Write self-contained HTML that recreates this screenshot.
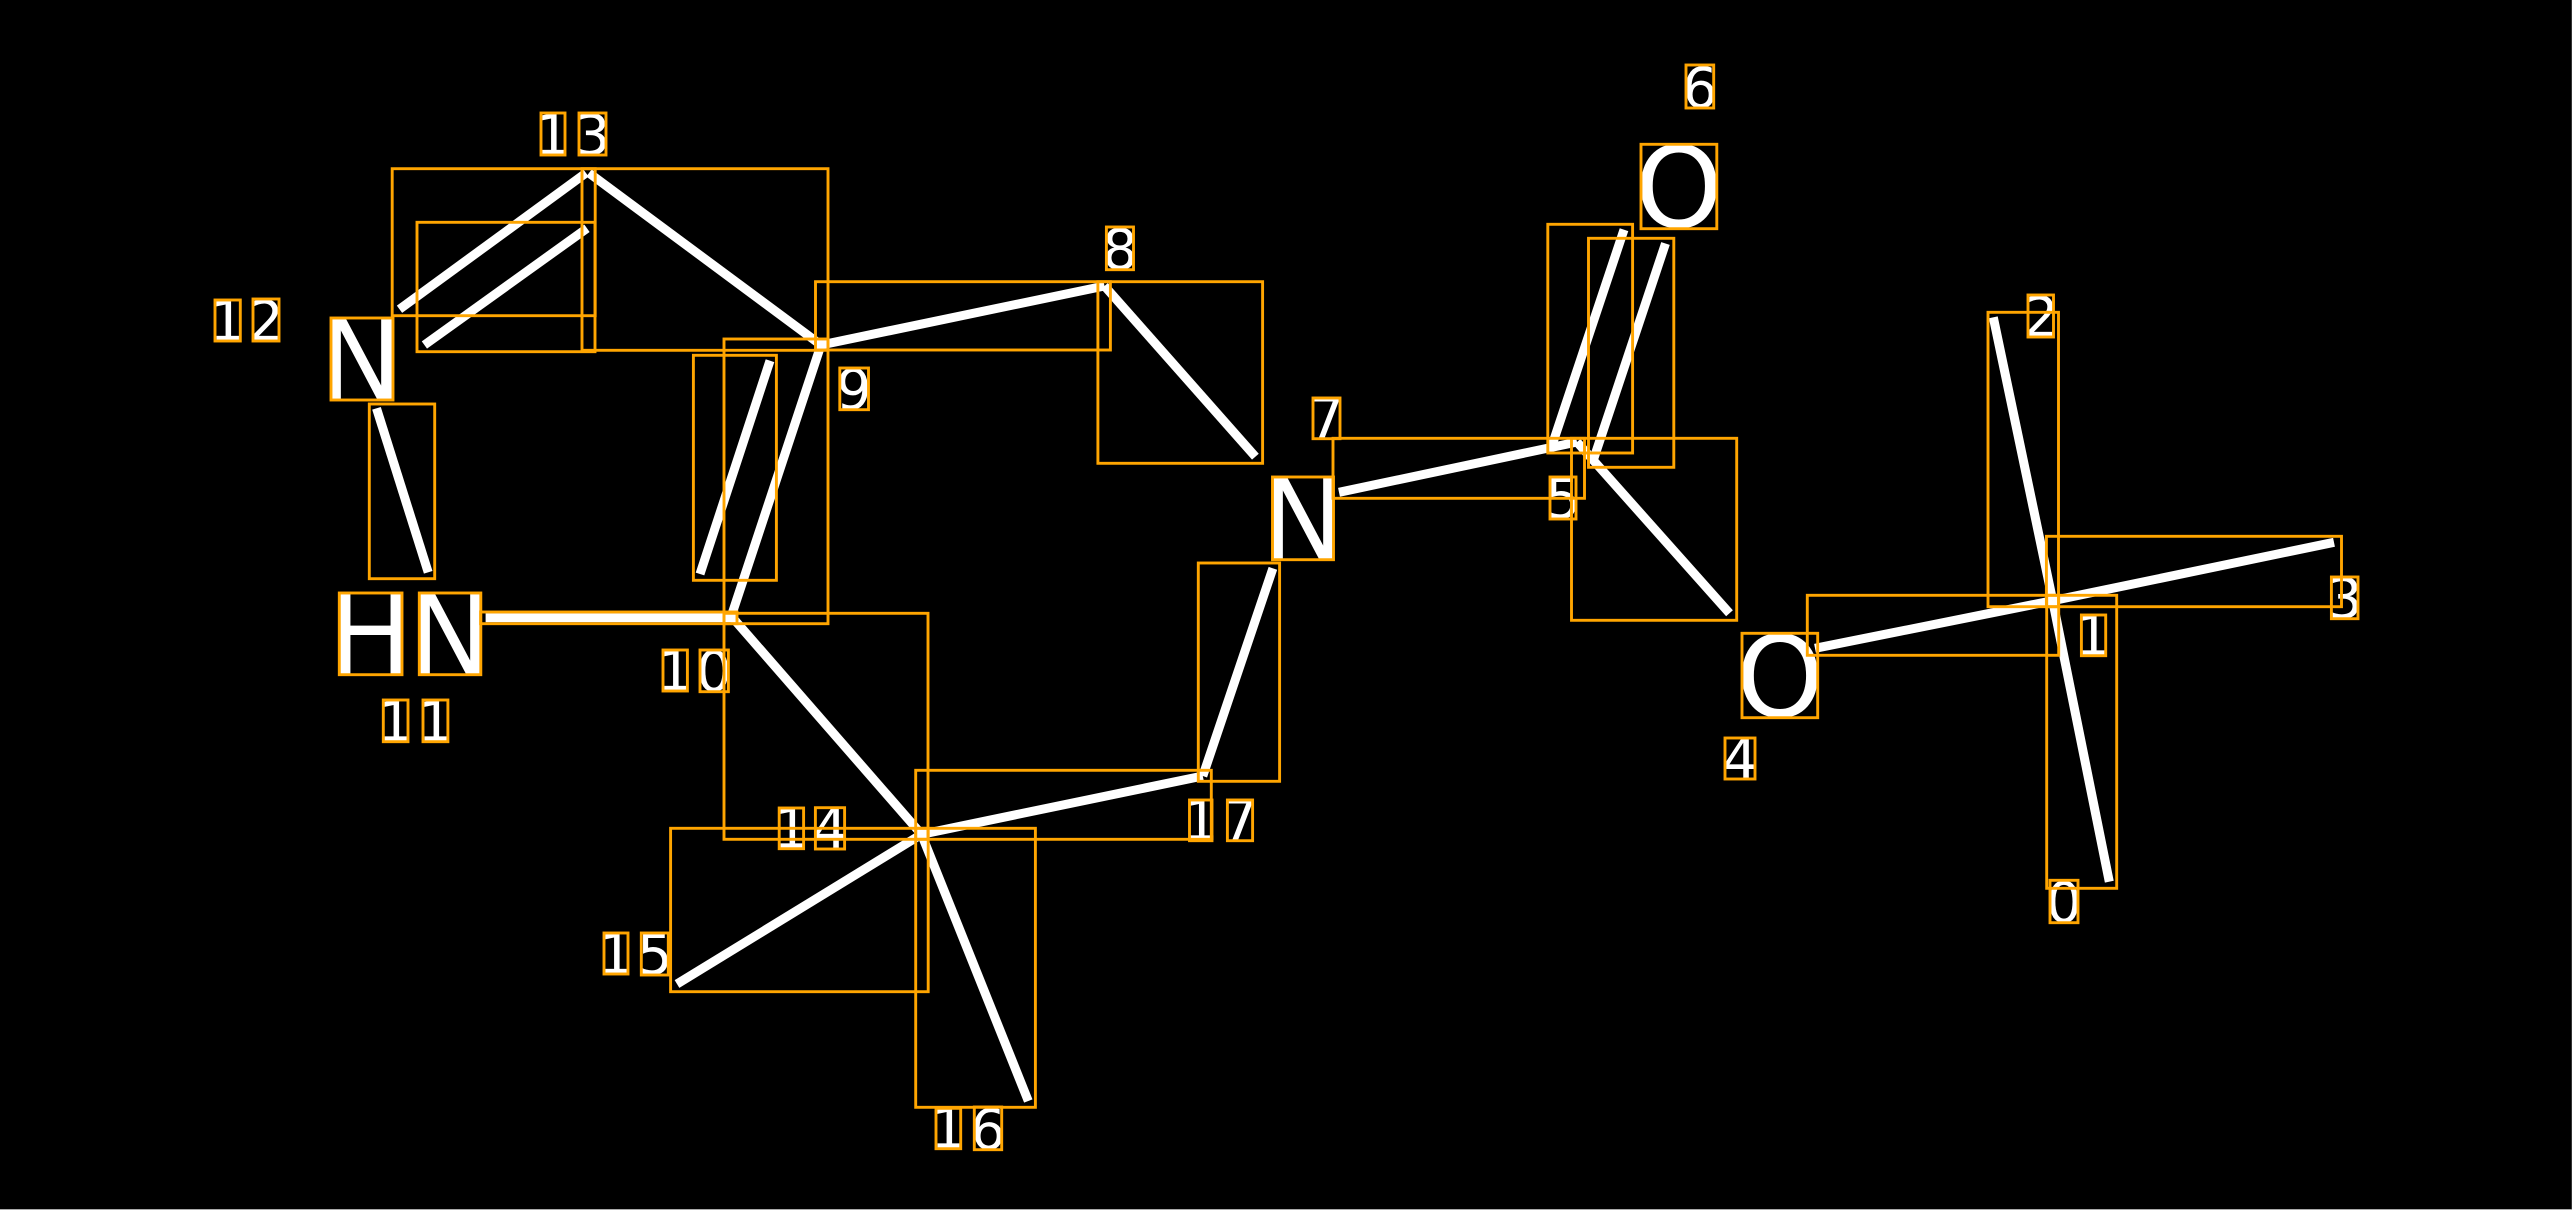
<!DOCTYPE html>
<html><head><meta charset="utf-8"><style>
html,body{margin:0;padding:0;background:#000;width:2572px;height:1210px;overflow:hidden}
svg{display:block}
text{font-family:"DejaVu Sans","Liberation Sans",sans-serif;fill:#fff}
.s{font-size:56px;text-anchor:middle}
.b{font-size:112px;text-anchor:middle}
.l line{stroke:#fff;stroke-width:9}
.r rect{fill:none;stroke:#FFA500;stroke-width:2.9}
</style></head><body>
<svg width="2572" height="1210" viewBox="0 0 2572 1210" xmlns="http://www.w3.org/2000/svg">
<rect width="2572" height="1210" fill="#000"/>
<g class="l">
<line x1="2109.3" y1="881.7" x2="2052.7" y2="600.7"/>
<line x1="1993.3" y1="317.3" x2="2052.7" y2="600.7"/>
<line x1="2334" y1="542.3" x2="2052.7" y2="600.7"/>
<line x1="1815" y1="648.3" x2="2052.7" y2="600.7"/>
<line x1="1577" y1="442" x2="1729.5" y2="613.3"/>
<line x1="1624" y1="229.7" x2="1551.5" y2="447"/>
<line x1="1665.5" y1="243.5" x2="1593" y2="461"/>
<line x1="1339" y1="492.3" x2="1577" y2="442"/>
<line x1="1104.5" y1="286" x2="1255.4" y2="456.7"/>
<line x1="821" y1="345" x2="1104.5" y2="286"/>
<line x1="821" y1="345" x2="731" y2="617"/>
<line x1="770" y1="360.7" x2="700" y2="574"/>
<line x1="485.6" y1="617.8" x2="737" y2="617.8"/>
<line x1="376.5" y1="408.3" x2="428.2" y2="572.3"/>
<line x1="399.5" y1="309.3" x2="586" y2="173"/>
<line x1="424.4" y1="345" x2="587" y2="228.3"/>
<line x1="589" y1="173" x2="821" y2="345"/>
<line x1="732" y1="617" x2="921.5" y2="834.3"/>
<line x1="677" y1="984" x2="921.5" y2="834.3"/>
<line x1="1028.3" y1="1101" x2="921.5" y2="834.3"/>
<line x1="921.5" y1="834.3" x2="1202.8" y2="776"/>
<line x1="1272.9" y1="568.3" x2="1202.8" y2="776"/>
</g>
<g>
<text class="b" x="361" y="399">N</text>
<text class="b" x="370.5" y="674">H</text>
<text class="b" x="450" y="674">N</text>
<text class="b" x="1303" y="559">N</text>
<text class="b" x="1678.8" y="227">O</text>
<text class="b" x="1780" y="716.5">O</text>
<text class="s" x="2064" y="922">0</text>
<text class="s" x="2093" y="655">1</text>
<text class="s" x="2041" y="336.5">2</text>
<text class="s" x="2344.7" y="618">3</text>
<text class="s" x="1740" y="778.5">4</text>
<text class="s" x="1563" y="518">5</text>
<text class="s" x="1700" y="107.5">6</text>
<text class="s" x="1326.5" y="438">7</text>
<text class="s" x="1120" y="269">8</text>
<text class="s" x="854" y="409">9</text>
<text class="s" x="675" y="690.5">1</text>
<text class="s" x="714" y="691">0</text>
<text class="s" x="395.5" y="741">1</text>
<text class="s" x="435.5" y="741">1</text>
<text class="s" x="227.5" y="340.5">1</text>
<text class="s" x="266" y="340.5">2</text>
<text class="s" x="553" y="154.5">1</text>
<text class="s" x="592.5" y="154.5">3</text>
<text class="s" x="791.5" y="848">1</text>
<text class="s" x="830" y="848">4</text>
<text class="s" x="616" y="973.5">1</text>
<text class="s" x="654.8" y="974">5</text>
<text class="s" x="948.5" y="1148">1</text>
<text class="s" x="988" y="1149">6</text>
<text class="s" x="1200.8" y="840">1</text>
<text class="s" x="1240" y="840">7</text>
</g>
<g class="r">
<rect x="2046.7" y="595.3" width="70" height="293"/>
<rect x="1988" y="312.3" width="70.5" height="294.4"/>
<rect x="2046.4" y="536.3" width="295.1" height="70.4"/>
<rect x="1807.3" y="595.3" width="251.4" height="60"/>
<rect x="1571.5" y="438.3" width="165.2" height="182"/>
<rect x="1547.8" y="224.3" width="84.8" height="228.7"/>
<rect x="1588.5" y="238.3" width="85.3" height="229"/>
<rect x="1333" y="438.3" width="251.5" height="60"/>
<rect x="1097.9" y="281.7" width="164.7" height="181.6"/>
<rect x="815.5" y="281.7" width="294.9" height="68.3"/>
<rect x="724" y="339" width="104" height="284.7"/>
<rect x="693.4" y="355.3" width="83" height="225"/>
<rect x="480.6" y="612" width="256.4" height="11.7"/>
<rect x="369.3" y="404" width="65.4" height="174.7"/>
<rect x="392.2" y="168.7" width="203" height="147"/>
<rect x="417" y="222.3" width="178" height="129.4"/>
<rect x="582" y="168.7" width="246" height="181.6"/>
<rect x="724" y="613.3" width="204" height="226"/>
<rect x="670.6" y="828.3" width="257.6" height="163.4"/>
<rect x="915.7" y="828.3" width="119.7" height="279"/>
<rect x="915.7" y="770.3" width="295.6" height="69"/>
<rect x="1198.3" y="563" width="81.3" height="218.3"/>
<rect x="331" y="318" width="62" height="82"/>
<rect x="339.3" y="593" width="62.7" height="81.7"/>
<rect x="419.3" y="593" width="61.5" height="81.7"/>
<rect x="1272.5" y="477" width="61" height="82.7"/>
<rect x="1641" y="144.3" width="75.8" height="84.4"/>
<rect x="1742" y="633.3" width="75.7" height="84.4"/>
<rect x="2050" y="880.3" width="28" height="42.4"/>
<rect x="2081.4" y="615" width="24.3" height="40.7"/>
<rect x="2028" y="295" width="25.5" height="42"/>
<rect x="2331.4" y="577" width="26.6" height="41.7"/>
<rect x="1725" y="738" width="30" height="41"/>
<rect x="1550" y="477" width="26" height="42"/>
<rect x="1686" y="65" width="27.7" height="43"/>
<rect x="1313" y="398" width="27" height="40.7"/>
<rect x="1106.4" y="227" width="27.1" height="42.7"/>
<rect x="839.8" y="368" width="28.7" height="41.7"/>
<rect x="663" y="650" width="24.4" height="41"/>
<rect x="700" y="650" width="28.4" height="41.7"/>
<rect x="383.3" y="700" width="24.7" height="41.7"/>
<rect x="423" y="700" width="24.9" height="41.7"/>
<rect x="215" y="300" width="25.3" height="41"/>
<rect x="253" y="299" width="26" height="42"/>
<rect x="541" y="113" width="24" height="42"/>
<rect x="579" y="113" width="27" height="42"/>
<rect x="779.2" y="808" width="24.4" height="40.7"/>
<rect x="815.4" y="807.7" width="29.2" height="41.3"/>
<rect x="604" y="933" width="24" height="41"/>
<rect x="641.3" y="933" width="27" height="42"/>
<rect x="936" y="1108.3" width="24.7" height="40.4"/>
<rect x="974.3" y="1107" width="27.4" height="42.7"/>
<rect x="1189.5" y="800" width="22.5" height="40.7"/>
<rect x="1227.4" y="800" width="25.2" height="40.7"/>
</g>
<rect x="2571" y="0" width="1" height="1210" fill="#333"/>
<rect x="0" y="1209" width="2572" height="1" fill="#aaa"/>
</svg>
</body></html>
